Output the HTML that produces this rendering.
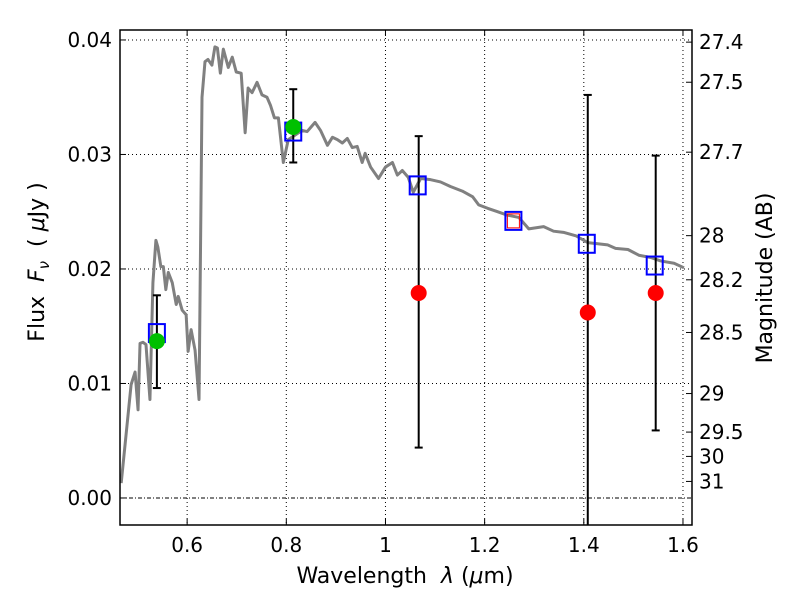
<!DOCTYPE html>
<html><head><meta charset="utf-8"><style>
body{margin:0;background:#fff}
svg{font-family:"DejaVu Sans","Liberation Sans",sans-serif}
</style></head><body>
<svg id="c" width="800" height="600" viewBox="0 0 800 600" xmlns="http://www.w3.org/2000/svg">
<rect x="0" y="0" width="800" height="600" fill="#fff"/>
<g id="grid"></g>
<g id="spec"></g>
<g id="marks"></g>
<g id="axes"></g>
<text x="405" y="583" font-size="22" text-anchor="middle">Wavelength&#160;&#160;<tspan font-style="italic">λ</tspan>&#160;(<tspan font-style="italic">μ</tspan>m)</text>
<text transform="translate(44,262) rotate(-90)" font-size="22" text-anchor="middle">Flux&#160;&#160;<tspan font-style="italic">F</tspan><tspan font-style="italic" font-size="15" dy="5">ν</tspan><tspan dy="-5">&#160;&#160;(&#160;</tspan><tspan font-style="italic">μ</tspan>Jy )</text>
<text transform="translate(772,278) rotate(-90)" font-size="22" text-anchor="middle">Magnitude (AB)</text>
</svg>
<script>
const xTicks=[0.6,0.8,1.0,1.2,1.4,1.6];
const xTickLabels=["0.6","0.8","1","1.2","1.4","1.6"];
const yTicks=[0,0.01,0.02,0.03,0.04];
const yTickLabels=["0.00","0.01","0.02","0.03","0.04"];
const magTicks=[27.4,27.5,27.7,28,28.2,28.5,29,29.5,30,31];
const specLam=[0.467,0.487,0.495,0.501,0.505,0.511,0.517,0.525,0.531,0.537,0.541,0.547,0.552,0.557,0.562,0.570,0.578,0.582,0.590,0.598,0.602,0.608,0.616,0.624,0.628,0.630,0.636,0.642,0.650,0.656,0.661,0.667,0.673,0.683,0.691,0.699,0.709,0.717,0.723,0.731,0.741,0.751,0.761,0.768,0.776,0.784,0.794,0.804,0.818,0.832,0.842,0.858,0.869,0.883,0.893,0.903,0.913,0.923,0.933,0.943,0.953,0.959,0.970,0.986,1.000,1.014,1.024,1.034,1.046,1.056,1.071,1.091,1.111,1.131,1.155,1.176,1.188,1.206,1.226,1.246,1.269,1.289,1.319,1.339,1.359,1.384,1.408,1.428,1.448,1.464,1.489,1.511,1.535,1.555,1.582,1.602];
const specFlux=[0.0013,0.0099,0.0110,0.0077,0.0135,0.0136,0.0134,0.0086,0.0188,0.0225,0.0219,0.0202,0.0202,0.0182,0.0197,0.0188,0.0169,0.0176,0.0164,0.0160,0.0128,0.0147,0.0129,0.0086,0.0263,0.0350,0.0381,0.0383,0.0378,0.0394,0.0393,0.0371,0.0392,0.0376,0.0385,0.0372,0.0371,0.0319,0.0358,0.0354,0.0363,0.0352,0.0350,0.0343,0.0332,0.0332,0.0293,0.0313,0.0317,0.0321,0.0320,0.0328,0.0321,0.0308,0.0315,0.0313,0.0310,0.0314,0.0306,0.0307,0.0293,0.0301,0.0289,0.0279,0.0289,0.0293,0.0282,0.0286,0.0280,0.0267,0.0279,0.0278,0.0276,0.0272,0.0268,0.0263,0.0256,0.0253,0.0250,0.0247,0.0245,0.0235,0.0237,0.0233,0.0232,0.0229,0.0223,0.0222,0.0221,0.0218,0.0217,0.0212,0.0210,0.0207,0.0205,0.0201];
const obsLam=[0.539,0.814,1.067,1.408,1.545];
const obsFlux=[0.0137,0.0324,0.0179,0.0162,0.0179];
const obsLo=[0.0096,0.0293,0.0044,-0.01,0.0059];
const obsHi=[0.0177,0.0357,0.0316,0.0352,0.0299];
const obsColor=["#00c000","#00c000","#ff0000","#ff0000","#ff0000"];
const modLam=[0.539,0.814,1.065,1.258,1.406,1.543];
const modFlux=[0.0144,0.0320,0.0273,0.0242,0.0222,0.0203];
const redSqLam=[1.258];
const redSqFlux=[0.0242];

const L=120,R=692,T=30,B=525;
const xmin=0.4646,xmax=1.6182,ymin=-0.00236,ymax=0.04087;
const X=v=>L+(v-xmin)/(xmax-xmin)*(R-L);
const Y=v=>B-(v-ymin)/(ymax-ymin)*(B-T);
const NS="http://www.w3.org/2000/svg";
function mk(tag,parent,attrs){const e=document.createElementNS(NS,tag);for(const k in attrs)e.setAttribute(k,attrs[k]);parent.appendChild(e);return e;}
const grid=document.getElementById('grid'),axes=document.getElementById('axes'),spec=document.getElementById('spec'),marks=document.getElementById('marks');
xTicks.forEach((t,i)=>{
  const g=mk('line',grid,{x1:X(t),x2:X(t),y1:T,y2:B,stroke:'#000','stroke-width':1,'stroke-dasharray':'1,3'});
  
  
  const tk=mk('line',axes,{x1:X(t),x2:X(t),y1:B,y2:B-6,stroke:'#000'});
  
  
  const tk2=mk('line',axes,{x1:X(t),x2:X(t),y1:T,y2:T+6,stroke:'#000'});
  
  
  const tx=mk('text',axes,{x:X(t),y:B+27,'font-size':20,'text-anchor':'middle'});
  tx.textContent=xTickLabels[i];
  
  
});
yTicks.forEach((t,i)=>{
  const g=mk('line',grid,{x1:L,x2:R,y1:Y(t),y2:Y(t),stroke:'#000','stroke-width':1,'stroke-dasharray':i==0?'4,2,1,2':'1,3'});
  
  
  const tk=mk('line',axes,{x1:L,x2:L+6,y1:Y(t),y2:Y(t),stroke:'#000'});
  
  
  const tx=mk('text',axes,{x:L-8,y:Y(t)+7,'font-size':20,'text-anchor':'end'});
  tx.textContent=yTickLabels[i];
  
  
});
magTicks.forEach(m=>{
  const f=Math.pow(10,(23.9-m)/2.5);
  const tk=mk('line',axes,{x1:R,x2:R-6,y1:Y(f),y2:Y(f),stroke:'#000'});
  
  
  const tx=mk('text',axes,{x:R+7,y:Y(f)+7,'font-size':20});
  tx.textContent=String(m);
  
  
});
const fr=mk('rect',axes,{x:L,y:T,width:R-L,height:B-T,fill:'none',stroke:'#000','stroke-width':1.5});


const cp=mk('clipPath',document.getElementById('c'),{id:'clip'});
mk('rect',cp,{x:L,y:T,width:R-L,height:B-T});
spec.setAttribute('clip-path','url(#clip)');marks.setAttribute('clip-path','url(#clip)');
const pl=mk('polyline',spec,{points:specLam.map((l,i)=>X(l)+','+Y(specFlux[i])).join(' '),fill:'none',stroke:'#808080','stroke-width':3,'stroke-linejoin':'round'});


obsLam.forEach((l,i)=>{
  const x=X(l);
  const e=mk('line',marks,{x1:x,x2:x,y1:Y(obsLo[i]),y2:Y(obsHi[i]),stroke:'#000','stroke-width':2});
  
  
  [obsLo[i],obsHi[i]].forEach(v=>{const c=mk('line',marks,{x1:x-4,x2:x+4,y1:Y(v),y2:Y(v),stroke:'#000','stroke-width':2});
    
    });
});
modLam.forEach((l,i)=>{
  const s=mk('rect',marks,{x:X(l)-8,y:Y(modFlux[i])-9,width:16,height:18,fill:'none',stroke:'#0000ff','stroke-width':2});
  
  
});
redSqLam.forEach((l,i)=>{
  const s=mk('rect',marks,{x:X(l)-6,y:Y(redSqFlux[i])-7,width:12,height:14,fill:'none',stroke:'#ff0000','stroke-width':1});
  
  
});
obsLam.forEach((l,i)=>{
  const c=mk('circle',marks,{cx:X(l),cy:Y(obsFlux[i]),r:8,fill:obsColor[i]});
  
  
});
</script>
</body></html>
